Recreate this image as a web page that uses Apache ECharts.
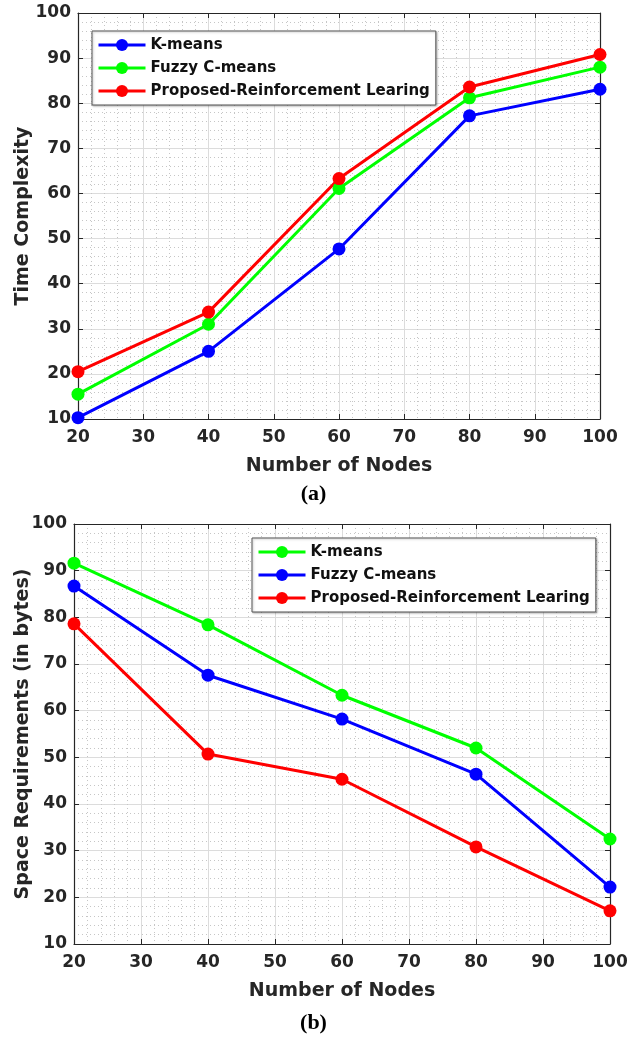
<!DOCTYPE html>
<html>
<head>
<meta charset="utf-8">
<script src="https://cdn.jsdelivr.net/npm/echarts@6/dist/echarts.min.js"></script>
<style>
  html, body { margin: 0; padding: 0; background: #fff; }
  #chartA { position: absolute; left: 0; top: 0; width: 627px; height: 510px; }
  #chartB { position: absolute; left: 0; top: 510px; width: 627px; height: 527px; }
</style>
</head>
<body>
<div id="chartA"></div>
<div id="chartB"></div>
<script>
// 节点数
const nodes = [20, 40, 60, 80, 100]

// (a) 时间复杂度
const timeKMeans = [10.3, 25.0, 47.7, 77.2, 83.1]
const timeFuzzy = [15.5, 31.0, 61.1, 81.2, 88.0]
const timeProposed = [20.5, 33.7, 63.3, 83.6, 90.8]

// (b) 空间需求
const spaceKMeans = [91.6, 78.4, 63.3, 52.0, 32.5]
const spaceFuzzy = [86.7, 67.6, 58.2, 46.4, 22.2]
const spaceProposed = [78.6, 50.7, 45.3, 30.8, 17.1]

const FONT = '"DejaVu Sans", Arial, sans-serif'
const TXT = '#262626'

const pairs = (ys) => nodes.map((x, i) => [x, ys[i]])

const makeSeries = (name, color, ys) => ({
  name,
  type: 'line',
  data: pairs(ys),
  symbol: 'circle',
  symbolSize: 13,
  lineStyle: { width: 3, color },
  itemStyle: { color },
  emphasis: { disabled: true },
  z: 5
})

const mainAxis = (extra) => Object.assign({
  type: 'value',
  interval: 10,
  nameMoveOverlap: false,
  axisLine: { show: true, lineStyle: { color: TXT, width: 1.2 } },
  axisTick: { show: true, inside: true, length: 5, lineStyle: { color: TXT } },
  splitLine: { show: true, lineStyle: { color: '#dcdcdc', width: 1 } },
  minorTick: { show: false, splitNumber: 5 },
  minorSplitLine: { show: true, lineStyle: { color: '#c6c6c6', width: 1, type: [1, 3] } },
  nameTextStyle: { color: TXT, fontFamily: FONT, fontWeight: 'bold', fontSize: 19 }
}, extra)

const boxAxis = (extra) => Object.assign({
  type: 'value',
  interval: 10,
  axisLine: { show: true, lineStyle: { color: TXT, width: 1.2 } },
  axisTick: { show: true, inside: true, length: 5, lineStyle: { color: TXT } },
  axisLabel: { show: false },
  splitLine: { show: false }
}, extra)

const makeOption = (cfg) => ({
  animation: false,
  backgroundColor: '#fff',
  grid: {
    left: cfg.grid[0], top: cfg.grid[1], width: cfg.grid[2], height: cfg.grid[3],
    containLabel: false,
    outerBoundsMode: 'none'
  },
  legend: {
    orient: 'vertical',
    left: cfg.legend[0],
    top: cfg.legend[1],
    data: cfg.series.map(s => s.name),
    itemWidth: 47,
    itemHeight: 15,
    itemGap: 5,
    padding: [5, 6, 5, 5],
    lineStyle: { width: 3 },
    backgroundColor: '#fff',
    borderColor: '#555',
    borderWidth: 1,
    shadowColor: 'rgba(0,0,0,0.25)',
    shadowBlur: 2,
    shadowOffsetX: 1,
    shadowOffsetY: 1,
    textStyle: { color: '#111', fontFamily: FONT, fontWeight: 'bold', fontSize: 15, lineHeight: 18 },
    selectedMode: false
  },
  xAxis: [
    mainAxis({
      min: 20, max: 100,
      name: 'Number of Nodes', nameLocation: 'middle', nameGap: 38,
      axisLabel: { color: TXT, fontFamily: FONT, fontWeight: 'bold', fontSize: 17, margin: 10 }
    }),
    boxAxis({ min: 20, max: 100, position: 'top' })
  ],
  yAxis: [
    mainAxis({
      min: 10, max: 100,
      name: cfg.yName, nameLocation: 'middle', nameGap: cfg.yGap,
      axisLabel: { color: TXT, fontFamily: FONT, fontWeight: 'bold', fontSize: 17, margin: 7 }
    }),
    boxAxis({ min: 10, max: 100, position: 'right' })
  ],
  title: {
    text: cfg.caption,
    left: 'center',
    top: cfg.captionTop,
    textStyle: { color: '#000', fontFamily: '"Liberation Serif", "Times New Roman", serif', fontWeight: 'bold', fontSize: 22 }
  },
  series: cfg.series
})

const chartA = echarts.init(document.getElementById('chartA'))
chartA.setOption(makeOption({
  grid: [78, 13, 522, 406],
  legend: [92, 31],
  yName: 'Time Complexity',
  yGap: 45,
  caption: '(a)',
  captionTop: 478,
  series: [
    makeSeries('K-means', '#0000ff', timeKMeans),
    makeSeries('Fuzzy C-means', '#00ff00', timeFuzzy),
    makeSeries('Proposed-Reinforcement Learing', '#ff0000', timeProposed)
  ]
}))

const chartB = echarts.init(document.getElementById('chartB'))
chartB.setOption(makeOption({
  grid: [74, 14, 536, 420],
  legend: [252, 28],
  yName: 'Space Requirements (in bytes)',
  yGap: 41,
  caption: '(b)',
  captionTop: 497,
  series: [
    makeSeries('K-means', '#00ff00', spaceKMeans),
    makeSeries('Fuzzy C-means', '#0000ff', spaceFuzzy),
    makeSeries('Proposed-Reinforcement Learing', '#ff0000', spaceProposed)
  ]
}))
</script>
</body>
</html>
